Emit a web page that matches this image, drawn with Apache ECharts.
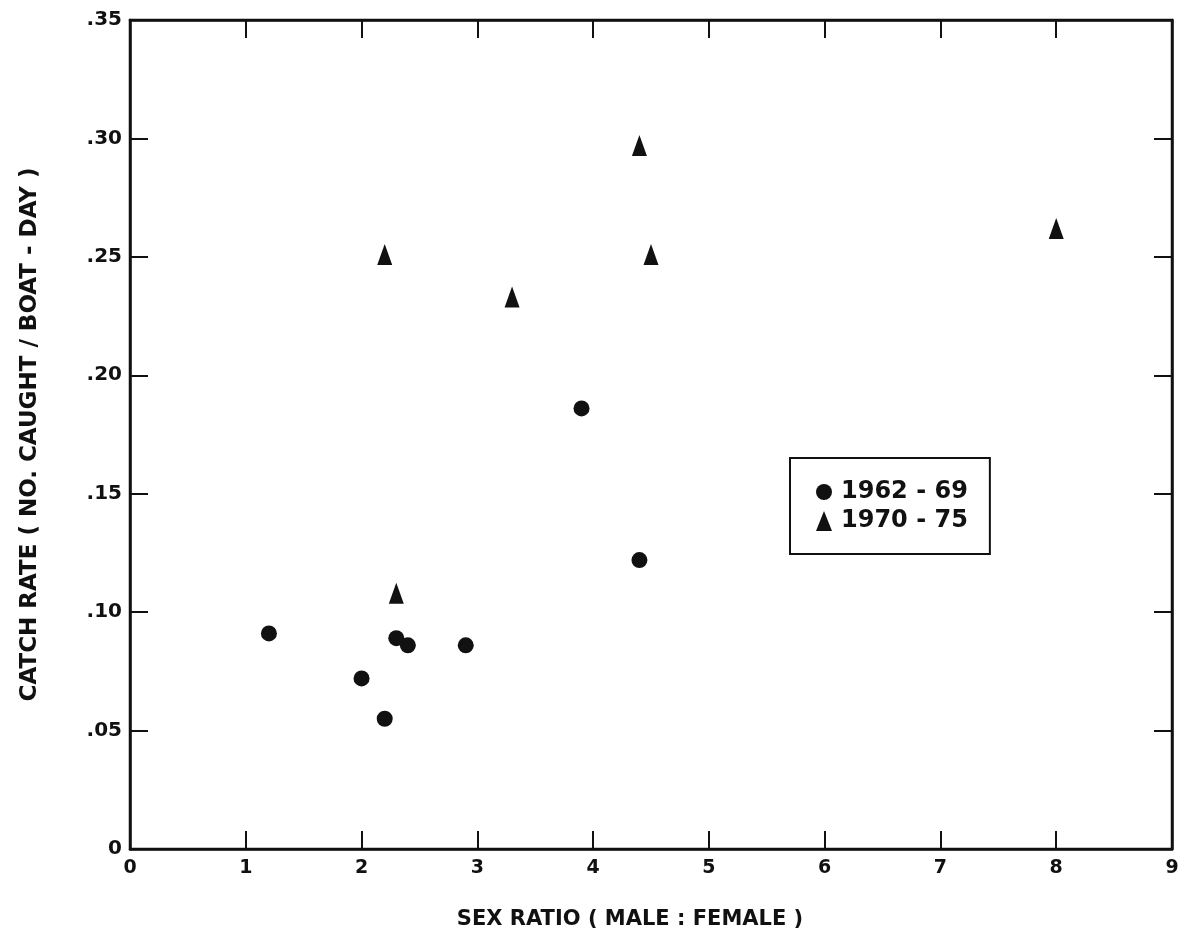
<!DOCTYPE html>
<html>
<head>
<meta charset="utf-8">
<script src="https://cdn.jsdelivr.net/npm/echarts@6/dist/echarts.min.js"></script>
<style>
  html, body { margin: 0; padding: 0; background: #fff; }
  #chart { width: 1184px; height: 944px; }
</style>
</head>
<body>
<div id="chart"></div>
<script>
// Sex ratio (male : female) versus catch rate, two periods
const period1Name = '1962 - 69';
const period1X = [1.2, 2.0, 2.2, 2.3, 2.4, 2.9, 3.9, 4.4];
const period1Y = [0.091, 0.072, 0.055, 0.089, 0.086, 0.086, 0.186, 0.122];

const period2Name = '1970 - 75';
const period2X = [2.2, 2.3, 3.3, 4.4, 4.5, 8.0];
const period2Y = [0.251, 0.108, 0.233, 0.297, 0.251, 0.262];

const xTitle = 'SEX RATIO ( MALE : FEMALE )';
const yTitle = 'CATCH RATE ( NO. CAUGHT / BOAT - DAY )';

const FONT = '"DejaVu Sans", sans-serif';
const INK = '#111';

function pairs(xs, ys) { return xs.map((x, i) => [x, ys[i]]); }
function rateLabel(v) {
  if (Math.abs(v) < 1e-9) return '0';
  return v.toFixed(2).replace(/^0/, '');
}

const chart = echarts.init(document.getElementById('chart'), null, { renderer: 'canvas' });

const tickStyle = { show: true, inside: true, length: 18, lineStyle: { color: INK, width: 2 } };
const frameLine = { show: true, onZero: false, lineStyle: { color: INK, width: 2.5 } };

chart.setOption({
  backgroundColor: '#fff',
  animation: false,
  grid: {
    left: 130, right: 12, top: 20, bottom: 95,
    show: true, borderColor: INK, borderWidth: 2.5, backgroundColor: 'transparent'
  },
  legend: {
    orient: 'vertical',
    left: 790, top: 458,
    padding: [22, 22, 21, 26],
    itemGap: 5,
    itemWidth: 16, itemHeight: 20,
    borderColor: INK, borderWidth: 2, borderRadius: 0,
    textStyle: { fontFamily: FONT, fontSize: 24, fontWeight: 'bold', color: INK, padding: [0, 0, 0, 4] },
    data: [
      { name: period1Name, icon: 'circle', itemStyle: { color: INK } },
      { name: period2Name, icon: 'triangle', itemStyle: { color: INK } }
    ]
  },
  xAxis: [{
    type: 'value', position: 'bottom',
    min: 0, max: 9, interval: 1,
    name: xTitle, nameLocation: 'middle', nameGap: 60,
    nameTextStyle: { fontFamily: FONT, fontSize: 21, fontWeight: 'bold', color: INK, padding: [0, 42, 0, 0] },
    axisLine: frameLine,
    axisTick: tickStyle,
    axisLabel: { fontFamily: FONT, fontSize: 19, fontWeight: 'bold', color: INK, margin: 10 },
    splitLine: { show: false }
  }, {
    type: 'value', position: 'top',
    min: 0, max: 9, interval: 1,
    axisLine: frameLine,
    axisTick: tickStyle,
    axisLabel: { show: false },
    splitLine: { show: false }
  }],
  yAxis: [{
    type: 'value', position: 'left',
    min: 0, max: 0.35, interval: 0.05,
    name: yTitle, nameLocation: 'middle', nameGap: 88, nameRotate: 90,
    nameTextStyle: { fontFamily: FONT, fontSize: 23, fontWeight: 'bold', color: INK },
    axisLine: frameLine,
    axisTick: tickStyle,
    axisLabel: { fontFamily: FONT, fontSize: 20, fontWeight: 'bold', color: INK, margin: 8, formatter: rateLabel },
    splitLine: { show: false }
  }, {
    type: 'value', position: 'right',
    min: 0, max: 0.35, interval: 0.05,
    axisLine: frameLine,
    axisTick: tickStyle,
    axisLabel: { show: false },
    splitLine: { show: false }
  }],
  series: [{
    name: period1Name,
    type: 'scatter',
    symbol: 'circle',
    symbolSize: 16,
    itemStyle: { color: INK, opacity: 1 },
    data: pairs(period1X, period1Y)
  }, {
    name: period2Name,
    type: 'scatter',
    symbol: 'triangle',
    symbolSize: [15, 21],
    itemStyle: { color: INK, opacity: 1 },
    data: pairs(period2X, period2Y)
  }, {
    // binds the top and right frame axes so their inward ticks are drawn
    name: 'frame',
    type: 'scatter',
    xAxisIndex: 1, yAxisIndex: 1,
    silent: true,
    data: []
  }]
});
</script>
</body>
</html>
